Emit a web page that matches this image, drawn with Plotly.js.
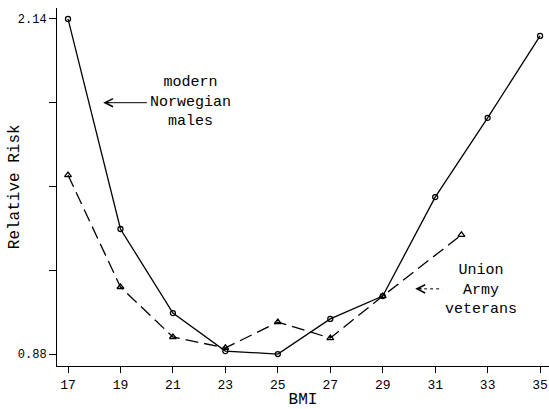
<!DOCTYPE html>
<html>
<head>
<meta charset="utf-8">
<script src="https://cdn.plot.ly/plotly-3.0.1.min.js"></script>
<style>html,body{margin:0;padding:0;background:#fff;}#chart{width:549px;height:409px;}</style>
</head>
<body>
<div id="chart"></div>
<script>
// BMI categories and relative-risk values
const bmiNorway = [17, 19, 21, 23, 25, 27, 29, 31, 33, 35];
const riskNorway = [2.14, 1.35, 1.034, 0.891, 0.88, 1.012, 1.098, 1.47, 1.768, 2.076];
const bmiUnion = [17, 19, 21, 23, 25, 27, 29, 32];
const riskUnion = [1.553, 1.132, 0.944, 0.903, 1.0, 0.94, 1.098, 1.328];

const xTickVals = [17, 19, 21, 23, 25, 27, 29, 31, 33, 35];
const yTickVals = [0.88, 1.195, 1.51, 1.825, 2.14];
const yTickText = ['0.88', '', '', '', '2.14'];

const labelNorway = 'modern<br>Norwegian<br>males';
const labelUnion = 'Union<br>Army<br>veterans';
const yTitle = 'Relative Risk';

const mono = 'Liberation Mono, DejaVu Sans Mono, monospace';

const traces = [
  {
    x: bmiNorway, y: riskNorway, mode: 'lines+markers', type: 'scatter',
    line: {color: '#000', width: 1.3},
    marker: {symbol: 'circle-open', size: 5, color: '#000', line: {width: 1.3}},
    showlegend: false
  },
  {
    x: bmiUnion, y: riskUnion, mode: 'lines+markers', type: 'scatter',
    line: {color: '#000', width: 1.3, dash: '13px,6px'},
    marker: {symbol: 'triangle-up-open', size: 6, color: '#000', line: {width: 1.3}},
    showlegend: false
  }
];

const layout = {
  width: 549, height: 409,
  margin: {l: 57, r: 0, t: 8, b: 43},
  paper_bgcolor: '#fff', plot_bgcolor: '#fff',
  font: {family: mono, color: '#000', size: 13},
  xaxis: {
    range: [16.58, 35.34], tickvals: xTickVals, ticktext: xTickVals.map(String),
    ticks: 'outside', ticklen: 6, tickwidth: 1, tickcolor: '#000',
    showgrid: false, zeroline: false, showline: true, linecolor: '#000', linewidth: 1,
    tickfont: {family: mono, size: 13},
    title: {text: 'BMI', font: {family: mono, size: 16}, standoff: 4}
  },
  yaxis: {
    range: [0.835, 2.181], tickvals: yTickVals, ticktext: yTickText,
    ticks: 'outside', ticklen: 7, tickwidth: 1, tickcolor: '#000',
    showgrid: false, zeroline: false, showline: true, linecolor: '#000', linewidth: 1,
    tickfont: {family: mono, size: 12}
  },
  shapes: [
    {type: 'line', xref: 'x', yref: 'y', x0: 18.45, x1: 20.01, y0: 1.825, y1: 1.825,
     line: {color: '#000', width: 1}},
    {type: 'line', xref: 'x', yref: 'y', x0: 30.35, x1: 31.27, y0: 1.125, y1: 1.125,
     line: {color: '#000', width: 1, dash: 'dot'}}
  ],
  annotations: [
    {x: -0.085, y: 0.5, xref: 'paper', yref: 'paper', text: yTitle, showarrow: false,
     textangle: -90, font: {family: mono, size: 16}, xanchor: 'center', yanchor: 'middle'},
    {x: 21.66, y: 1.828, xref: 'x', yref: 'y', text: labelNorway, showarrow: false,
     font: {family: mono, size: 15}, align: 'center'},
    {x: 32.73, y: 1.121, xref: 'x', yref: 'y', text: labelUnion, showarrow: false,
     font: {family: mono, size: 15}, align: 'center'},
    {x: 18.34, y: 1.825, xref: 'x', yref: 'y', text: '', showarrow: true,
     ax: 8, ay: 0, arrowhead: 5, arrowsize: 1.6, arrowwidth: 1, arrowcolor: '#000'},
    {x: 30.24, y: 1.125, xref: 'x', yref: 'y', text: '', showarrow: true,
     ax: 8, ay: 0, arrowhead: 5, arrowsize: 1.6, arrowwidth: 1, arrowcolor: '#000'}
  ]
};

Plotly.newPlot('chart', traces, layout, {displayModeBar: false, staticPlot: true});
</script>
</body>
</html>
